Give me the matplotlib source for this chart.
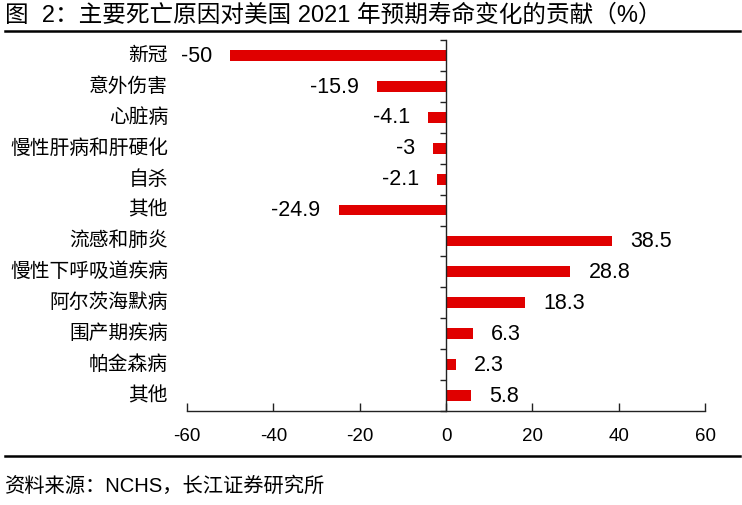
import numpy as np
import matplotlib
matplotlib.use("Agg")
import matplotlib.pyplot as plt
from matplotlib.lines import Line2D

# ---------------------------------
# Data
# ---------------------------------
categories = [
    "新冠", "意外伤害", "心脏病", "慢性肝病和肝硬化", "自杀", "其他",
    "流感和肺炎", "慢性下呼吸道疾病", "阿尔茨海默病", "围产期疾病", "帕金森病", "其他",
]
values = [-50, -15.9, -4.1, -3, -2.1, -24.9, 38.5, 28.8, 18.3, 6.3, 2.3, 5.8]
value_labels = ["-50", "-15.9", "-4.1", "-3", "-2.1", "-24.9",
                "38.5", "28.8", "18.3", "6.3", "2.3", "5.8"]
xticks = [-60, -40, -20, 0, 20, 40, 60]

title = "图  2：主要死亡原因对美国 2021 年预期寿命变化的贡献（%）"
source = "资料来源：NCHS，长江证券研究所"

# ---------------------------------
# Fonts
# ---------------------------------
mixed = ["Liberation Sans", "Noto Sans CJK SC", "DejaVu Sans"]
plt.rcParams["font.family"] = mixed

# ---------------------------------
# Figure
# ---------------------------------
W, H = 742, 505
fig = plt.figure(figsize=(W / 100, H / 100), dpi=100)
ax = fig.add_axes([187 / W, 1 - 411 / H, (705 - 187) / W, (411 - 40) / H])

y = np.arange(len(categories))
ax.barh(y, values, height=0.35, color="#E00000", zorder=2)

ax.set_xlim(-60, 60)
ax.set_ylim(len(categories) - 0.5, -0.5)

# value labels
for yi, v, lab in zip(y, values, value_labels):
    off = -13 if v < 0 else 13
    ax.annotate(lab, (v, yi), xytext=(off, -0.5), textcoords="offset points",
                ha="right" if v < 0 else "left", va="center",
                fontsize=15.5, color="black")

# category labels at the left edge
for yi, c in zip(y, categories):
    ax.text(-19 / 518, yi, c, transform=ax.get_yaxis_transform(),
            ha="right", va="center", fontsize=14.2, color="black")

# ---------------------------------
# Axes styling
# ---------------------------------
for s in ["top", "right"]:
    ax.spines[s].set_visible(False)
ax.spines["left"].set_position(("data", 0))
ax.spines["left"].set_color("#222222")
ax.spines["bottom"].set_color("#222222")
ax.spines["left"].set_linewidth(1.0)
ax.spines["bottom"].set_linewidth(1.0)

ax.set_yticks(np.arange(-0.5, len(categories), 1))
ax.set_yticklabels([])
ax.tick_params(axis="y", direction="out", length=4, width=1, color="#222222")

ax.set_xticks(xticks)
ax.set_xticklabels([str(t) for t in xticks])
ax.tick_params(axis="x", direction="in", length=6, width=1, color="#222222",
               pad=12, labelsize=13.5)

# ---------------------------------
# Title, rules, source
# ---------------------------------
fig.text(5 / W, 1 - 16 / H, title, ha="left", va="center", fontsize=17)
fig.add_artist(Line2D([5 / W, 740 / W], [1 - 31 / H] * 2, lw=1.8, color="black"))
fig.add_artist(Line2D([5 / W, 740 / W], [1 - 456 / H] * 2, lw=1.8, color="black"))
fig.text(5 / W, 1 - 486 / H, source, ha="left", va="center", fontsize=14.6)

fig.savefig("out.png", dpi=100)
